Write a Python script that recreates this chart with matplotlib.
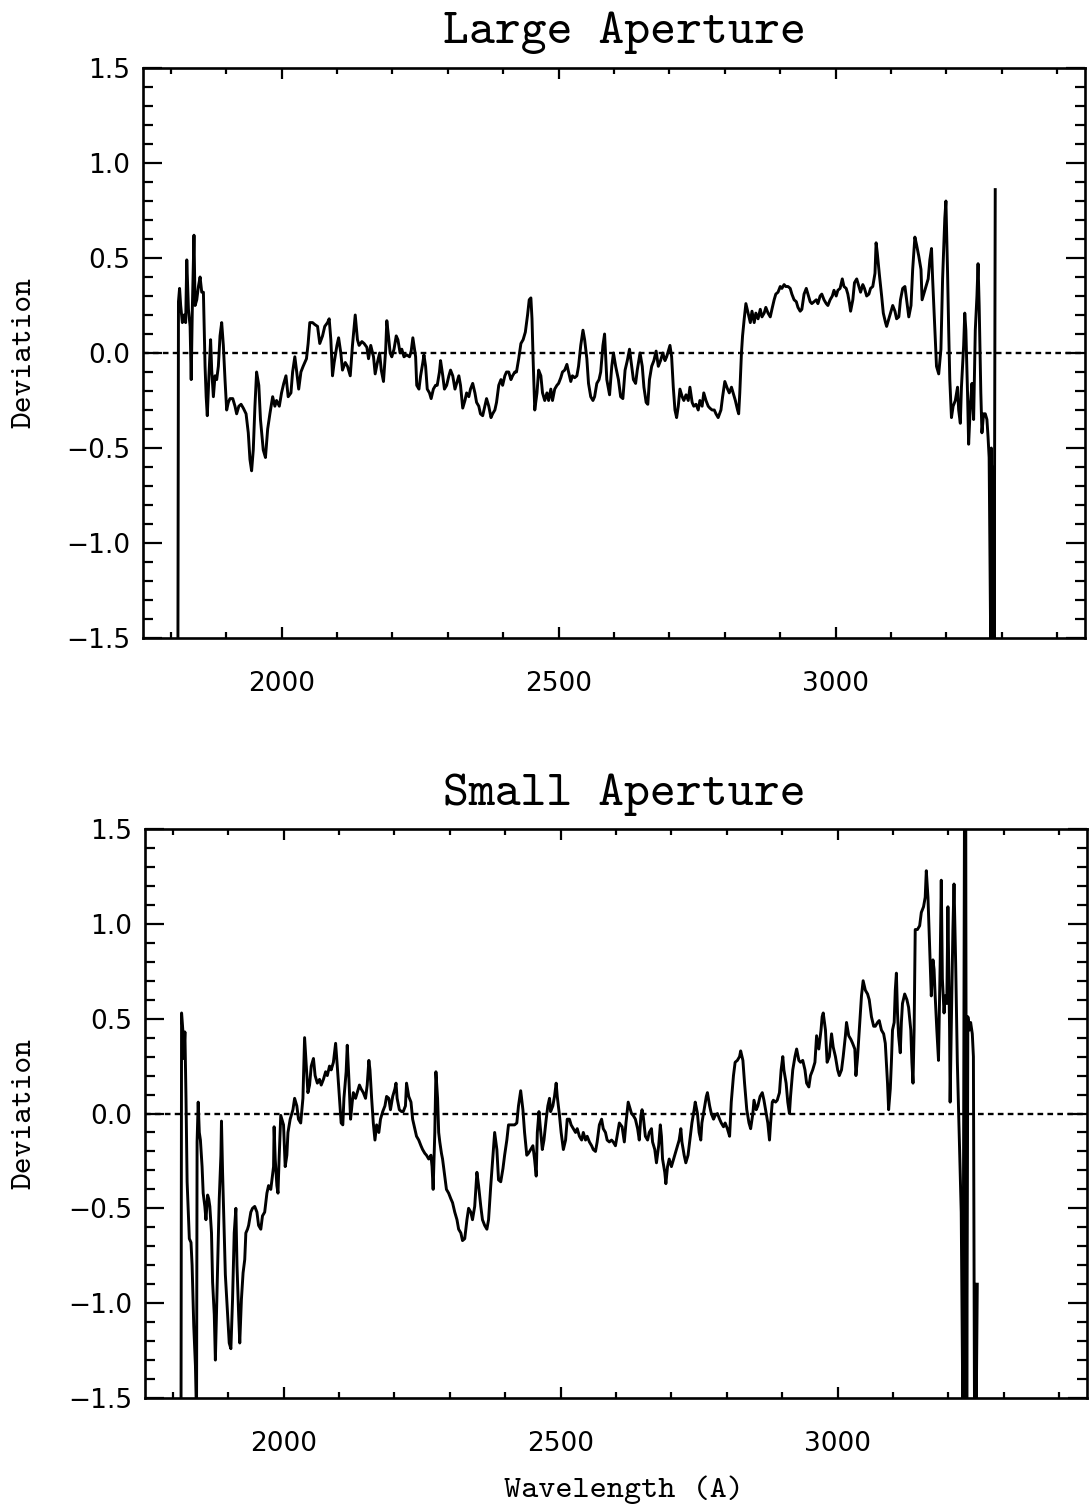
import matplotlib
matplotlib.use("Agg")
import matplotlib.pyplot as plt
from matplotlib.ticker import MultipleLocator, FixedLocator

# ---------------- data (wavelength in A, deviation) ----------------
lam_large = [
    1813, 1814, 1816, 1818, 1821, 1824, 1827, 1829, 1832, 1835,
    1837, 1839, 1842, 1844, 1847, 1850, 1853, 1856, 1859, 1862,
    1864, 1866, 1869, 1872, 1874, 1877, 1880, 1883, 1886, 1889,
    1892, 1895, 1898, 1901, 1904, 1907, 1912, 1916, 1919, 1923,
    1927, 1931, 1936, 1940, 1943, 1946, 1949, 1952, 1955, 1959,
    1962, 1967, 1971, 1975, 1979, 1984, 1988, 1991, 1996, 2000,
    2004, 2008, 2012, 2017, 2020, 2024, 2027, 2031, 2035, 2039,
    2045, 2048, 2051, 2056, 2060, 2065, 2069, 2074, 2078, 2083,
    2086, 2089, 2092, 2095, 2100, 2103, 2107, 2110, 2115, 2119,
    2124, 2128, 2133, 2137, 2140, 2145, 2149, 2154, 2157, 2161,
    2166, 2169, 2173, 2177, 2180, 2184, 2188, 2190, 2193, 2196,
    2199, 2203, 2207, 2210, 2214, 2217, 2221, 2226, 2231, 2234,
    2237, 2239, 2242, 2244, 2248, 2251, 2255, 2257, 2260, 2263,
    2267, 2270, 2274, 2278, 2281, 2285, 2287, 2291, 2294, 2298,
    2302, 2305, 2309, 2313, 2316, 2320, 2323, 2327, 2331, 2334,
    2338, 2341, 2345, 2349, 2352, 2356, 2359, 2363, 2367, 2370,
    2374, 2378, 2381, 2385, 2388, 2392, 2396, 2399, 2403, 2406,
    2410, 2414, 2417, 2421, 2424, 2428, 2432, 2436, 2440, 2444,
    2447, 2450, 2452, 2454, 2457, 2461, 2464, 2468, 2471, 2475,
    2479, 2482, 2486, 2489, 2493, 2497, 2500, 2504, 2507, 2511,
    2515, 2518, 2522, 2525, 2529, 2533, 2536, 2540, 2544, 2547,
    2551, 2554, 2558, 2562, 2565, 2569, 2573, 2576, 2580, 2583,
    2587, 2592, 2596, 2599, 2603, 2608, 2612, 2616, 2620, 2624,
    2628, 2632, 2635, 2639, 2642, 2647, 2651, 2654, 2658, 2661,
    2664, 2668, 2672, 2676, 2680, 2684, 2688, 2692, 2695, 2699,
    2701, 2704, 2707, 2710, 2713, 2716, 2719, 2723, 2726, 2730,
    2734, 2737, 2741, 2744, 2748, 2752, 2755, 2759, 2762, 2766,
    2770, 2773, 2777, 2781, 2784, 2788, 2793, 2796, 2800, 2805,
    2808, 2812, 2815, 2819, 2823, 2825, 2827, 2830, 2832, 2835,
    2838, 2842, 2846, 2849, 2853, 2856, 2860, 2864, 2867, 2871,
    2874, 2878, 2882, 2885, 2889, 2892, 2896, 2900, 2903, 2907,
    2910, 2914, 2918, 2921, 2925, 2929, 2932, 2936, 2939, 2943,
    2947, 2950, 2954, 2957, 2961, 2965, 2968, 2972, 2975, 2979,
    2983, 2986, 2990, 2994, 2997, 3001, 3004, 3008, 3012, 3015,
    3019, 3022, 3025, 3027, 3031, 3034, 3038, 3042, 3045, 3049,
    3052, 3056, 3060, 3063, 3067, 3071, 3073, 3075, 3079, 3083,
    3086, 3090, 3092, 3096, 3099, 3103, 3107, 3110, 3114, 3117,
    3121, 3125, 3128, 3132, 3136, 3139, 3143, 3146, 3150, 3154,
    3156, 3160, 3163, 3167, 3170, 3173, 3175, 3179, 3182, 3186,
    3190, 3193, 3197, 3199, 3202, 3204, 3206, 3209, 3212, 3216,
    3220, 3222, 3225, 3227, 3231, 3233, 3235, 3238, 3240, 3243,
    3246, 3249, 3252, 3255, 3257, 3259, 3262, 3264, 3267, 3270,
    3273, 3275, 3277, 3280, 3281, 3282, 3283, 3284, 3285, 3286,
    3288,
]
dev_large = [
    -1.6, 0.27, 0.34, 0.25, 0.16, 0.20, 0.16, 0.49, 0.23, 0.14,
    -0.14, 0.23, 0.62, 0.25, 0.28, 0.35, 0.40, 0.32, 0.32, -0.07,
    -0.23, -0.33, -0.12, 0.07, -0.09, -0.23, -0.12, -0.14, -0.07, 0.09,
    0.16, 0.04, -0.14, -0.30, -0.26, -0.24, -0.24, -0.28, -0.32, -0.28,
    -0.27, -0.29, -0.32, -0.42, -0.56, -0.62, -0.51, -0.28, -0.10, -0.17,
    -0.35, -0.51, -0.55, -0.40, -0.32, -0.23, -0.28, -0.25, -0.28, -0.21,
    -0.16, -0.12, -0.23, -0.21, -0.10, -0.02, -0.09, -0.19, -0.10, -0.07,
    -0.03, 0.05, 0.16, 0.16, 0.15, 0.14, 0.05, 0.09, 0.14, 0.16,
    0.18, 0.07, -0.12, -0.05, 0.04, 0.08, 0.00, -0.09, -0.05, -0.07,
    -0.12, 0.04, 0.20, 0.07, 0.04, 0.06, 0.05, 0.03, -0.03, 0.04,
    -0.02, -0.11, -0.05, 0.00, -0.09, -0.15, 0.02, 0.17, 0.09, 0.00,
    -0.02, 0.02, 0.09, 0.07, 0.00, 0.02, -0.02, -0.01, -0.02, 0.01,
    0.08, 0.04, -0.02, -0.17, -0.19, -0.12, -0.05, -0.01, -0.07, -0.19,
    -0.21, -0.24, -0.19, -0.17, -0.17, -0.10, -0.04, -0.12, -0.19, -0.17,
    -0.12, -0.09, -0.12, -0.19, -0.16, -0.12, -0.17, -0.29, -0.25, -0.21,
    -0.23, -0.19, -0.16, -0.21, -0.26, -0.28, -0.32, -0.33, -0.28, -0.24,
    -0.28, -0.34, -0.32, -0.30, -0.26, -0.17, -0.14, -0.17, -0.12, -0.10,
    -0.10, -0.14, -0.12, -0.10, -0.10, -0.03, 0.05, 0.07, 0.11, 0.20,
    0.28, 0.29, 0.18, -0.03, -0.30, -0.21, -0.09, -0.12, -0.21, -0.25,
    -0.21, -0.25, -0.19, -0.25, -0.19, -0.17, -0.16, -0.13, -0.10, -0.09,
    -0.06, -0.10, -0.15, -0.12, -0.13, -0.12, -0.07, 0.04, 0.12, 0.07,
    -0.03, -0.16, -0.23, -0.25, -0.23, -0.16, -0.14, -0.10, 0.04, 0.10,
    -0.14, -0.22, -0.07, 0.00, -0.07, -0.14, -0.23, -0.24, -0.09, -0.04,
    0.02, -0.07, -0.14, -0.16, -0.09, 0.00, -0.07, -0.18, -0.26, -0.27,
    -0.14, -0.07, -0.04, 0.01, -0.07, -0.04, 0.00, -0.04, -0.02, 0.02,
    0.04, -0.02, -0.18, -0.30, -0.34, -0.28, -0.19, -0.23, -0.25, -0.22,
    -0.25, -0.18, -0.26, -0.28, -0.27, -0.30, -0.25, -0.28, -0.21, -0.25,
    -0.28, -0.29, -0.30, -0.30, -0.32, -0.34, -0.30, -0.23, -0.15, -0.19,
    -0.21, -0.18, -0.21, -0.25, -0.30, -0.32, -0.21, 0.00, 0.09, 0.18,
    0.26, 0.21, 0.16, 0.22, 0.16, 0.21, 0.18, 0.23, 0.19, 0.21,
    0.24, 0.21, 0.19, 0.23, 0.28, 0.31, 0.32, 0.35, 0.34, 0.36,
    0.35, 0.35, 0.34, 0.31, 0.28, 0.27, 0.24, 0.22, 0.23, 0.31,
    0.34, 0.31, 0.27, 0.26, 0.27, 0.28, 0.26, 0.30, 0.31, 0.28,
    0.26, 0.25, 0.28, 0.30, 0.33, 0.30, 0.33, 0.34, 0.39, 0.35,
    0.34, 0.31, 0.26, 0.22, 0.28, 0.37, 0.39, 0.35, 0.32, 0.36,
    0.34, 0.30, 0.31, 0.34, 0.35, 0.42, 0.58, 0.53, 0.41, 0.30,
    0.21, 0.16, 0.14, 0.18, 0.21, 0.25, 0.22, 0.18, 0.19, 0.28,
    0.34, 0.35, 0.28, 0.19, 0.25, 0.44, 0.61, 0.57, 0.51, 0.44,
    0.28, 0.32, 0.35, 0.39, 0.49, 0.55, 0.39, 0.12, -0.07, -0.11,
    0.02, 0.39, 0.71, 0.80, 0.42, 0.12, -0.14, -0.34, -0.28, -0.25,
    -0.18, -0.30, -0.37, -0.18, 0.04, 0.21, 0.12, -0.21, -0.48, -0.28,
    -0.16, -0.35, 0.12, 0.30, 0.47, 0.25, -0.21, -0.42, -0.32, -0.32,
    -0.35, -0.44, -0.55, -1.6, -0.5, -1.6, -0.6, -1.6, -0.7, -1.6,
    0.86,
]

lam_small = [
    1815, 1816, 1819, 1820, 1822, 1824, 1826, 1830, 1833, 1835,
    1838, 1841, 1843, 1844, 1846, 1848, 1850, 1853, 1855, 1858,
    1860, 1863, 1865, 1867, 1870, 1872, 1875, 1877, 1879, 1882,
    1884, 1887, 1888, 1890, 1893, 1895, 1899, 1902, 1905, 1908,
    1911, 1914, 1916, 1919, 1921, 1924, 1927, 1930, 1932, 1935,
    1937, 1941, 1944, 1948, 1952, 1955, 1959, 1962, 1966, 1970,
    1973, 1977, 1979, 1982, 1983, 1985, 1988, 1990, 1992, 1995,
    1997, 2000, 2003, 2006, 2008, 2012, 2017, 2020, 2024, 2027,
    2031, 2035, 2038, 2041, 2044, 2047, 2050, 2054, 2057, 2061,
    2065, 2068, 2072, 2076, 2079, 2083, 2086, 2090, 2094, 2097,
    2101, 2104, 2107, 2109, 2113, 2115, 2118, 2121, 2124, 2126,
    2130, 2133, 2137, 2140, 2144, 2148, 2151, 2154, 2156, 2159,
    2162, 2165, 2168, 2172, 2175, 2179, 2183, 2186, 2190, 2193,
    2197, 2201, 2203, 2205, 2209, 2213, 2216, 2220, 2222, 2226,
    2230, 2233, 2237, 2240, 2244, 2248, 2251, 2255, 2258, 2262,
    2266, 2268, 2270, 2273, 2275, 2278, 2280, 2282, 2285, 2287,
    2290, 2292, 2294, 2298, 2302, 2305, 2309, 2313, 2316, 2320,
    2323, 2327, 2331, 2334, 2338, 2341, 2345, 2349, 2352, 2356,
    2359, 2363, 2367, 2370, 2374, 2378, 2381, 2385, 2388, 2392,
    2396, 2399, 2403, 2406, 2410, 2414, 2417, 2421, 2424, 2428,
    2432, 2435, 2439, 2442, 2446, 2450, 2453, 2456, 2458, 2461,
    2463, 2467, 2470, 2474, 2477, 2480, 2482, 2486, 2489, 2492,
    2494, 2498, 2501, 2505, 2509, 2512, 2516, 2519, 2523, 2527,
    2530, 2534, 2538, 2541, 2545, 2548, 2552, 2556, 2559, 2563,
    2566, 2570, 2574, 2577, 2581, 2584, 2588, 2592, 2595, 2599,
    2603, 2606, 2611, 2615, 2618, 2622, 2624, 2628, 2631, 2635,
    2639, 2642, 2645, 2647, 2649, 2653, 2657, 2660, 2664, 2666,
    2670, 2673, 2677, 2680, 2682, 2684, 2688, 2690, 2693, 2696,
    2700, 2704, 2707, 2711, 2714, 2717, 2719, 2723, 2726, 2730,
    2734, 2737, 2741, 2743, 2747, 2750, 2753, 2755, 2759, 2763,
    2765, 2769, 2772, 2776, 2779, 2783, 2787, 2790, 2794, 2797,
    2801, 2805, 2808, 2812, 2815, 2819, 2823, 2825, 2829, 2832,
    2836, 2840, 2843, 2847, 2849, 2853, 2856, 2860, 2864, 2867,
    2871, 2874, 2877, 2879, 2882, 2884, 2888, 2891, 2895, 2898,
    2901, 2903, 2907, 2910, 2913, 2915, 2919, 2923, 2926, 2930,
    2933, 2937, 2941, 2944, 2948, 2951, 2955, 2959, 2962, 2966,
    2970, 2972, 2974, 2978, 2981, 2985, 2989, 2992, 2996, 3000,
    3003, 3007, 3010, 3014, 3016, 3020, 3024, 3027, 3031, 3033,
    3036, 3039, 3043, 3046, 3050, 3054, 3057, 3061, 3065, 3068,
    3072, 3075, 3079, 3083, 3086, 3090, 3092, 3095, 3097, 3099,
    3102, 3104, 3106, 3108, 3110, 3113, 3115, 3117, 3121, 3125,
    3128, 3132, 3134, 3136, 3138, 3140, 3144, 3148, 3151, 3155,
    3158, 3160, 3163, 3165, 3167, 3169, 3172, 3174, 3176, 3179,
    3182, 3185, 3187, 3189, 3192, 3194, 3197, 3199, 3202, 3203,
    3205, 3208, 3210, 3213, 3216, 3220, 3223, 3226, 3229, 3230,
    3231, 3233, 3235, 3238, 3240, 3243, 3245, 3247, 3249, 3250, 3252,
]
dev_small = [
    -1.6, 0.53, 0.41, 0.29, 0.43, 0.08, -0.36, -0.66, -0.68, -0.80,
    -1.12, -1.33, -1.6, -0.15, 0.06, -0.10, -0.14, -0.28, -0.42, -0.49,
    -0.56, -0.43, -0.45, -0.49, -0.63, -0.89, -1.06, -1.30, -1.06, -0.71,
    -0.45, -0.22, -0.04, -0.31, -0.63, -0.85, -1.06, -1.21, -1.24, -0.98,
    -0.63, -0.50, -0.80, -1.06, -1.21, -0.98, -0.84, -0.77, -0.63, -0.61,
    -0.59, -0.52, -0.50, -0.49, -0.52, -0.59, -0.61, -0.54, -0.52, -0.42,
    -0.38, -0.40, -0.35, -0.28, -0.07, -0.24, -0.38, -0.42, -0.24, -0.01,
    -0.03, -0.06, -0.28, -0.22, -0.10, -0.03, 0.02, 0.08, 0.04, -0.03,
    -0.05, 0.08, 0.40, 0.25, 0.11, 0.15, 0.25, 0.29, 0.20, 0.16,
    0.18, 0.15, 0.18, 0.22, 0.20, 0.25, 0.23, 0.27, 0.37, 0.25,
    0.08, -0.05, -0.06, 0.08, 0.22, 0.36, 0.18, -0.03, 0.06, 0.11,
    0.08, 0.11, 0.15, 0.13, 0.11, 0.08, 0.15, 0.28, 0.23, 0.08,
    -0.05, -0.14, -0.06, -0.10, -0.03, 0.01, 0.04, 0.09, 0.08, 0.02,
    0.09, 0.13, 0.16, 0.08, 0.02, 0.01, 0.01, 0.04, 0.16, 0.09,
    0.06, -0.03, -0.08, -0.12, -0.14, -0.17, -0.19, -0.21, -0.22, -0.24,
    -0.22, -0.28, -0.40, -0.10, 0.22, 0.08, -0.10, -0.15, -0.21, -0.24,
    -0.31, -0.36, -0.40, -0.42, -0.45, -0.47, -0.52, -0.56, -0.61, -0.63,
    -0.67, -0.66, -0.56, -0.50, -0.52, -0.56, -0.49, -0.31, -0.38, -0.49,
    -0.56, -0.59, -0.61, -0.56, -0.38, -0.22, -0.10, -0.19, -0.35, -0.36,
    -0.29, -0.22, -0.14, -0.06, -0.06, -0.06, -0.06, -0.05, 0.04, 0.12,
    0.02, -0.10, -0.22, -0.21, -0.19, -0.17, -0.24, -0.33, -0.10, 0.01,
    -0.06, -0.19, -0.14, -0.03, 0.04, 0.08, 0.01, 0.04, 0.09, 0.16,
    0.09, -0.01, -0.10, -0.19, -0.14, -0.03, -0.03, -0.06, -0.08, -0.10,
    -0.08, -0.12, -0.14, -0.10, -0.14, -0.12, -0.15, -0.17, -0.19, -0.20,
    -0.15, -0.06, -0.03, -0.08, -0.10, -0.14, -0.15, -0.14, -0.15, -0.17,
    -0.10, -0.05, -0.07, -0.15, -0.05, 0.06, 0.04, 0.00, -0.01, -0.03,
    -0.08, -0.14, -0.01, 0.02, -0.01, -0.12, -0.14, -0.10, -0.08, -0.15,
    -0.19, -0.26, -0.17, -0.06, -0.12, -0.24, -0.31, -0.37, -0.28, -0.24,
    -0.28, -0.24, -0.21, -0.17, -0.14, -0.08, -0.15, -0.22, -0.26, -0.22,
    -0.12, -0.05, 0.02, 0.06, 0.00, -0.10, -0.14, -0.05, 0.02, 0.09,
    0.11, 0.04, 0.00, -0.03, -0.01, 0.00, -0.03, -0.05, -0.07, -0.05,
    -0.08, -0.12, 0.06, 0.20, 0.27, 0.28, 0.30, 0.33, 0.28, 0.16,
    0.02, -0.05, -0.08, 0.00, 0.07, 0.02, 0.04, 0.09, 0.11, 0.07,
    0.00, -0.05, -0.14, -0.05, 0.06, 0.07, 0.06, 0.07, 0.11, 0.23,
    0.30, 0.23, 0.16, 0.06, 0.00, 0.09, 0.23, 0.30, 0.34, 0.28,
    0.27, 0.28, 0.23, 0.16, 0.14, 0.20, 0.23, 0.27, 0.41, 0.34,
    0.44, 0.51, 0.53, 0.44, 0.27, 0.30, 0.42, 0.35, 0.30, 0.23,
    0.20, 0.23, 0.30, 0.41, 0.48, 0.41, 0.39, 0.37, 0.34, 0.20,
    0.30, 0.44, 0.62, 0.70, 0.65, 0.63, 0.60, 0.51, 0.46, 0.46,
    0.48, 0.49, 0.44, 0.42, 0.37, 0.16, 0.02, 0.13, 0.27, 0.44,
    0.48, 0.65, 0.74, 0.53, 0.41, 0.32, 0.48, 0.58, 0.63, 0.60,
    0.56, 0.44, 0.27, 0.16, 0.44, 0.97, 0.97, 0.99, 1.06, 1.09,
    1.14, 1.28, 1.14, 0.97, 0.79, 0.62, 0.81, 0.76, 0.62, 0.44,
    0.28, 0.79, 1.23, 0.71, 0.53, 0.62, 0.58, 1.09, 0.44, 0.06,
    0.44, 0.97, 1.21, 0.79, 0.27, -0.17, -0.52, -1.6, 1.7, -1.6,
    1.7, -1.6, 0.51, 0.44, 0.48, 0.42, 0.30, -1.6, -0.9, -1.6, -0.9,
]

titles = ["Large Aperture", "Small Aperture"]
x_ticks = [2000, 2500, 3000]
y_ticks = [-1.5, -1.0, -0.5, 0.0, 0.5, 1.0, 1.5]
y_ticklabels = ["\u22121.5", "\u22121.0", "\u22120.5", "0.0", "0.5", "1.0", "1.5"]
xlabel = "Wavelength (A)"
ylabel = "Deviation"

# ---------------- figure ----------------
W, H = 1089, 1511
fig = plt.figure(figsize=(W / 100, H / 100), dpi=100)
fig.patch.set_facecolor("white")

TT = "cmtt10"
panels = [
    # left, top, right, bottom in pixels
    dict(box=(143, 68, 1085, 638), lam=lam_large, dev=dev_large, title=titles[0], tbase=43),
    dict(box=(145, 829, 1087, 1398), lam=lam_small, dev=dev_small, title=titles[1], tbase=805),
]

for p in panels:
    l, t, r, b = p["box"]
    ax = fig.add_axes([l / W, 1 - b / H, (r - l) / W, (b - t) / H])
    ax.plot(p["lam"], p["dev"], color="black", lw=2.1, solid_joinstyle="round")
    ax.axhline(0.0, color="black", lw=1.7, ls=(0, (2.4, 1.8)))
    ax.set_xlim(1750, 3450)
    ax.set_ylim(-1.5, 1.5)

    ax.xaxis.set_major_locator(FixedLocator(x_ticks))
    ax.xaxis.set_minor_locator(MultipleLocator(100))
    ax.yaxis.set_major_locator(FixedLocator(y_ticks))
    ax.yaxis.set_minor_locator(MultipleLocator(0.1))
    ax.set_yticklabels(y_ticklabels)

    ax.tick_params(axis="both", which="both", direction="in",
                   top=True, right=True, width=1.6, colors="black")
    ax.tick_params(axis="x", which="major", length=8, labelsize=19, pad=24)
    ax.tick_params(axis="x", which="minor", length=4)
    ax.tick_params(axis="y", which="major", length=14, labelsize=19, pad=9)
    ax.tick_params(axis="y", which="minor", length=7)
    for s in ax.spines.values():
        s.set_linewidth(1.9)
    for lab in ax.get_xticklabels() + ax.get_yticklabels():
        lab.set_fontfamily("DejaVu Sans")

    # title
    fig.text(624 / W, 1 - p["tbase"] / H, p["title"], family=TT, fontsize=35.5,
             ha="center", va="baseline")
    # y label
    fig.text(25 / W, 1 - ((t + b) / 2) / H, ylabel, family=TT, fontsize=23,
             rotation=90, ha="center", va="center")

fig.text(624 / W, 1 - 1490 / H, xlabel, family=TT, fontsize=23.5,
         ha="center", va="center")

fig.savefig("out.png", dpi=100, facecolor="white")
